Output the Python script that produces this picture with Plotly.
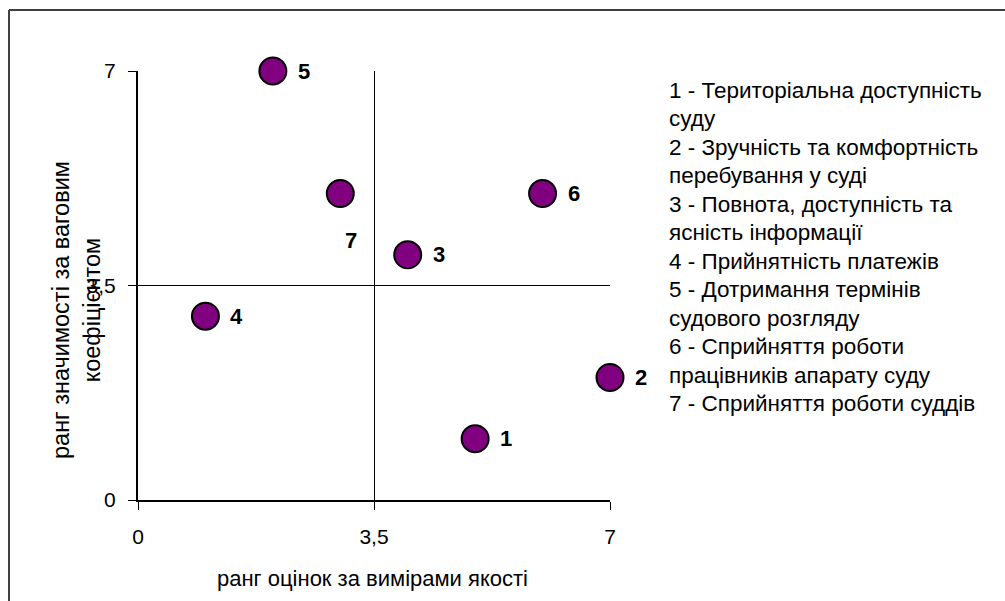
import plotly.graph_objects as go

# Data
ids = ["1", "2", "3", "4", "5", "6", "7"]
quality_rank = [5, 7, 4, 1, 2, 6, 3]
weight_rank = [1, 2, 4, 3, 7, 5, 5]
tick_vals = [0, 3.5, 7]
tick_text = ["0", "3,5", "7"]
legend_lines = [
    "1 - Територіальна доступність",
    "суду",
    "2 - Зручність та комфортність",
    "перебування у суді",
    "3 - Повнота, доступність та",
    "ясність інформації",
    "4 - Прийнятність платежів",
    "5 - Дотримання термінів",
    "судового розгляду",
    "6 - Сприйняття роботи",
    "працівників апарату суду",
    "7 - Сприйняття роботи суддів",
]
x_title = "ранг оцінок за вимірами якості"
y_title = "ранг значимості за ваговим<br>коефіцієнтом"

# Layout geometry (pixels)
W, H = 1005, 601
L, R, T, B = 138, 610, 71, 500
pw, ph = R - L, B - T

def px(x):
    return (x - L) / pw

def py(y):
    return (B - y) / ph

FONT = "Liberation Sans, Arial, sans-serif"

fig = go.Figure()
fig.add_trace(go.Scatter(
    x=quality_rank, y=weight_rank, mode="markers",
    marker=dict(size=27, color="#800080", line=dict(color="black", width=2)),
    cliponaxis=False, hoverinfo="skip", showlegend=False,
))

# point labels
label_shift = {"7": (11, -47)}
for i, xv, yv in zip(ids, quality_rank, weight_rank):
    dx, dy = label_shift.get(i, (31, 0))
    fig.add_annotation(x=xv, y=yv, xref="x", yref="y", text="<b>%s</b>" % i,
                       showarrow=False, xanchor="center", yanchor="middle",
                       xshift=dx, yshift=dy,
                       font=dict(family=FONT, size=22, color="black"))

# legend text lines
for k, line in enumerate(legend_lines):
    fig.add_annotation(x=px(667), y=py(90 + k * 28.5), xref="paper", yref="paper",
                       text=line, showarrow=False, xanchor="left", yanchor="middle",
                       font=dict(family=FONT, size=22.5, color="black"))

# axis titles
fig.add_annotation(x=px(372), y=py(578), xref="paper", yref="paper", text=x_title,
                   showarrow=False, xanchor="center", yanchor="middle",
                   font=dict(family=FONT, size=22, color="black"))
fig.add_annotation(x=px(76), y=py(310), xref="paper", yref="paper", text=y_title,
                   showarrow=False, xanchor="center", yanchor="middle", textangle=-90,
                   font=dict(family=FONT, size=23.5, color="black"))

# outer border
fig.add_shape(type="line", xref="paper", yref="paper", x0=px(9), x1=px(9), y0=py(10), y1=py(620),
              line=dict(color="#404040", width=2))
fig.add_shape(type="line", xref="paper", yref="paper", x0=px(9), x1=px(1020), y0=py(10), y1=py(10),
              line=dict(color="#404040", width=2))

axis_common = dict(
    range=[0, 7], tickmode="array", tickvals=tick_vals, ticktext=tick_text,
    showgrid=True, gridcolor="black", gridwidth=1, zeroline=False,
    showline=True, linecolor="black", linewidth=2,
    ticks="outside", ticklen=8, tickwidth=1, tickcolor="black",
    tickfont=dict(family=FONT, size=21, color="black"), fixedrange=True,
)
fig.update_layout(
    width=W, height=H,
    margin=dict(l=L, r=W - R, t=T, b=H - B),
    paper_bgcolor="white", plot_bgcolor="white",
    xaxis=dict(**axis_common, ticklabelstandoff=9),
    yaxis=dict(**axis_common, ticklabelstandoff=8),
    font=dict(family=FONT, color="black"),
)
fig.write_html("out.html", config={"displayModeBar": False},
               post_script="document.body.style.margin='0';")
